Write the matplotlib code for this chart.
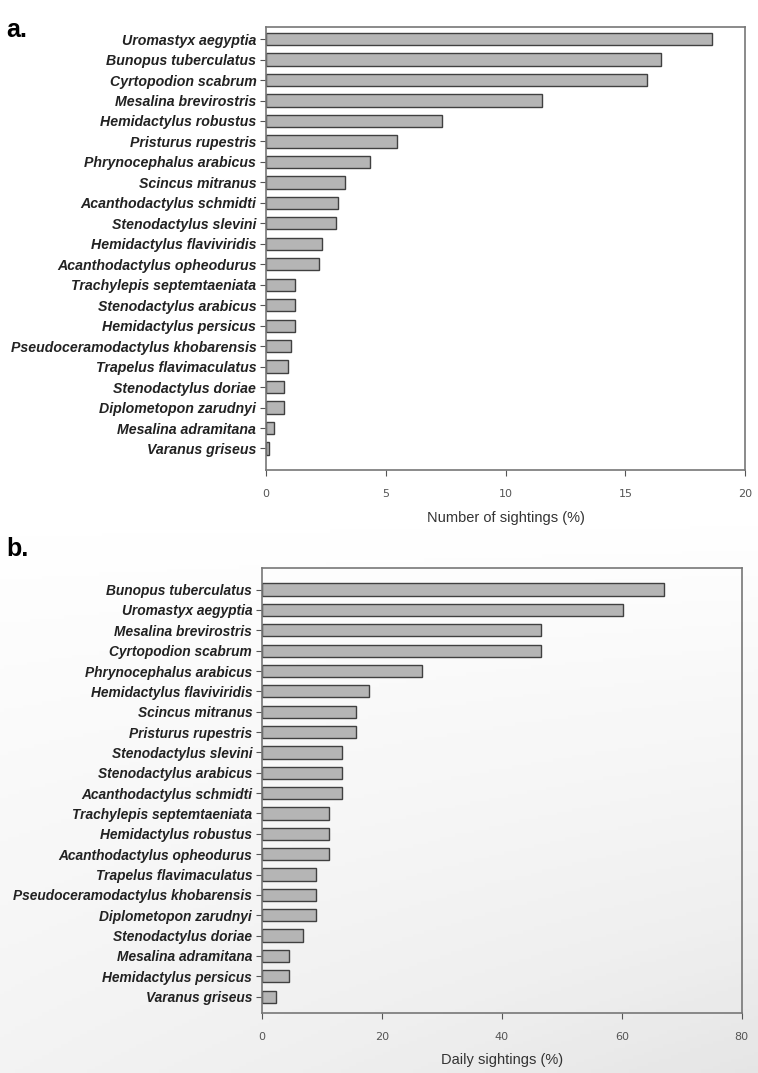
import numpy as np
import matplotlib
matplotlib.use('Agg')
import matplotlib.pyplot as plt

# panel a: share of all sightings
arter_a = ['Uromastyx aegyptia', 'Bunopus tuberculatus', 'Cyrtopodion scabrum',
           'Mesalina brevirostris', 'Hemidactylus robustus', 'Pristurus rupestris',
           'Phrynocephalus arabicus', 'Scincus mitranus', 'Acanthodactylus schmidti',
           'Stenodactylus slevini', 'Hemidactylus flaviviridis', 'Acanthodactylus opheodurus',
           'Trachylepis septemtaeniata', 'Stenodactylus arabicus', 'Hemidactylus persicus',
           'Pseudoceramodactylus khobarensis', 'Trapelus flavimaculatus', 'Stenodactylus doriae',
           'Diplometopon zarudnyi', 'Mesalina adramitana', 'Varanus griseus']
verdier_a = [18.6, 16.5, 15.9, 11.5, 7.35, 5.45, 4.35, 3.3, 3.0, 2.9, 2.35, 2.2,
             1.2, 1.2, 1.2, 1.05, 0.9, 0.75, 0.75, 0.35, 0.12]

# panel b: daily sightings
arter_b = ['Bunopus tuberculatus', 'Uromastyx aegyptia', 'Mesalina brevirostris',
           'Cyrtopodion scabrum', 'Phrynocephalus arabicus', 'Hemidactylus flaviviridis',
           'Scincus mitranus', 'Pristurus rupestris', 'Stenodactylus slevini',
           'Stenodactylus arabicus', 'Acanthodactylus schmidti', 'Trachylepis septemtaeniata',
           'Hemidactylus robustus', 'Acanthodactylus opheodurus', 'Trapelus flavimaculatus',
           'Pseudoceramodactylus khobarensis', 'Diplometopon zarudnyi', 'Stenodactylus doriae',
           'Mesalina adramitana', 'Hemidactylus persicus', 'Varanus griseus']
verdier_b = [67.0, 60.2, 46.6, 46.6, 26.7, 17.8, 15.6, 15.6, 13.4, 13.4, 13.4, 11.2,
             11.2, 11.2, 9.0, 9.0, 9.0, 6.8, 4.5, 4.5, 2.3]

fig = plt.figure(figsize=(7.58, 10.73), dpi=100)

# svak graa bakgrunn nederst
bg = fig.add_axes([0, 0, 1, 1], zorder=-10)
yy, xx = np.mgrid[0:1:300j, 0:1:200j]
grad = np.clip((yy - 0.48) / 0.52, 0, 1) * (0.55 + 0.45 * xx)
bg.imshow(grad, cmap='Greys', vmin=0, vmax=5.5, extent=[0, 1, 0, 1], aspect='auto', origin='upper')
bg.set_xlim(0, 1)
bg.set_ylim(0, 1)
bg.axis('off')

def tegn(ax, arter, verdier, xmax, xticks, xlabel, ylim, fs):
    pos = np.arange(len(arter))
    ax.barh(pos, verdier, height=0.6, color='#b5b5b5', edgecolor='#404040', linewidth=1.0)
    ax.set_yticks(pos)
    ax.set_yticklabels(arter, family='Liberation Sans', style='italic', weight='bold',
                       size=fs, color='#222222')
    ax.set_ylim(*ylim)
    ax.set_xlim(0, xmax)
    ax.set_xticks(xticks)
    ax.tick_params(axis='x', labelsize=8, colors='#555555', length=4, pad=10)
    ax.tick_params(axis='y', length=4, color='#555555', pad=3)
    for s in ax.spines.values():
        s.set_color('#777777')
        s.set_linewidth(1.2)
    ax.set_xlabel(xlabel, family='Liberation Sans', fontsize=10.5, color='#333333', labelpad=8)

ax1 = fig.add_axes([0.351, 0.562, 0.632, 0.413])
tegn(ax1, arter_a, verdier_a, 20, [0, 5, 10, 15, 20], 'Number of sightings (%)', (21.05, -0.6), 10.2)

ax2 = fig.add_axes([0.3456, 0.056, 0.633, 0.415])
ax2.set_facecolor('none')
tegn(ax2, arter_b, verdier_b, 80, [0, 20, 40, 60, 80], 'Daily sightings (%)', (20.8, -1.08), 9.9)

fig.text(0.008, 0.972, 'a.', family='Liberation Sans', weight='bold', fontsize=18, va='center')
fig.text(0.008, 0.488, 'b.', family='Liberation Sans', weight='bold', fontsize=18, va='center')

fig.savefig('out.png', dpi=100)
